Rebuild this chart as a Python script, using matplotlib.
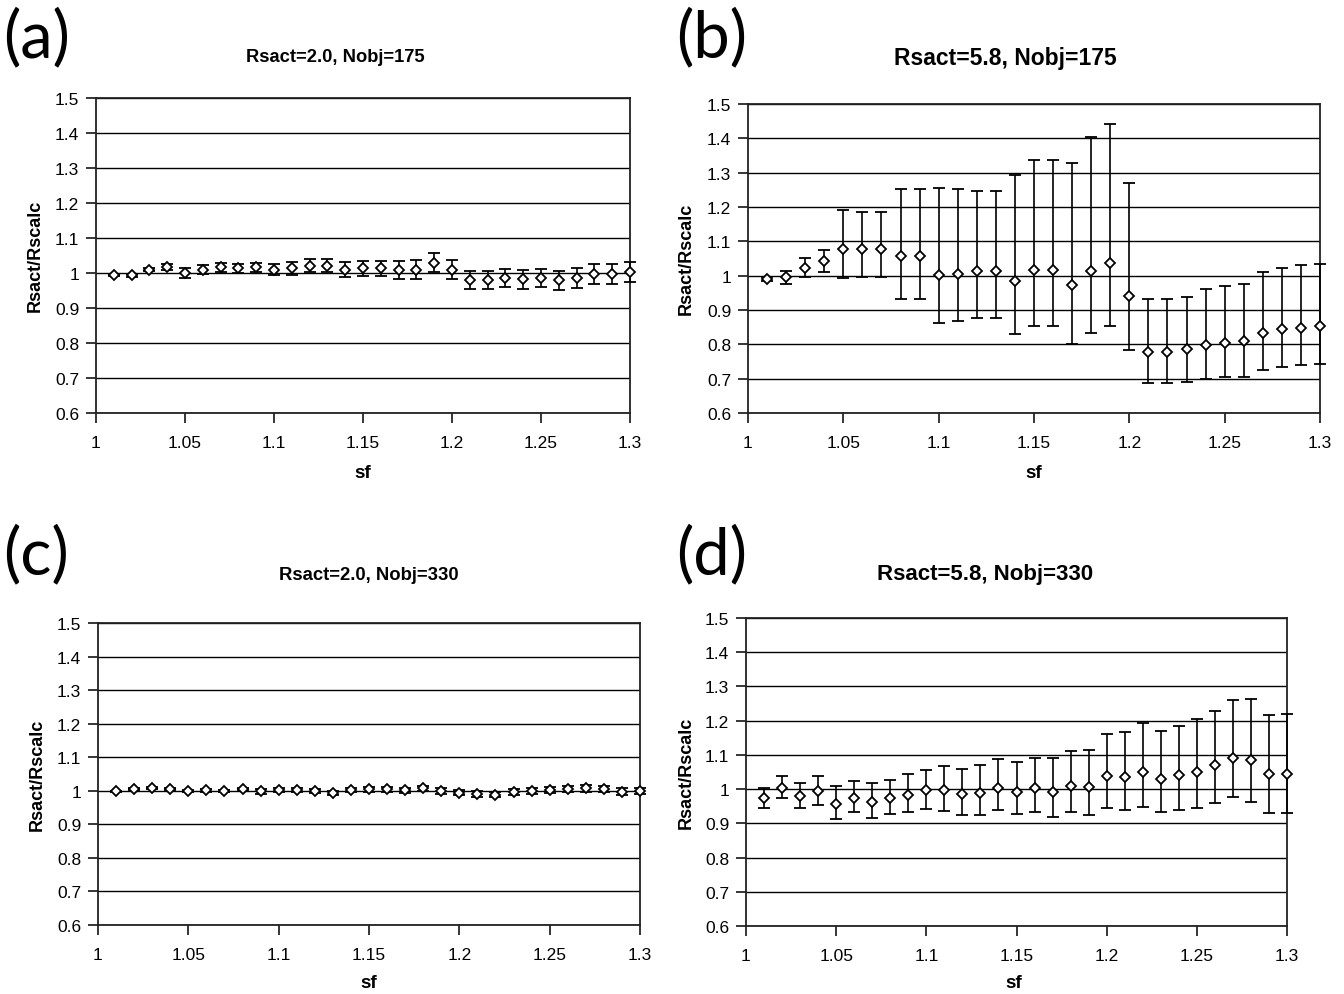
import numpy as np
import matplotlib
matplotlib.use("Agg")
import matplotlib.pyplot as plt

sf = [1.01, 1.02, 1.03, 1.04, 1.05, 1.06, 1.07, 1.08, 1.09, 1.10,
      1.11, 1.12, 1.13, 1.14, 1.15, 1.16, 1.17, 1.18, 1.19, 1.20,
      1.21, 1.22, 1.23, 1.24, 1.25, 1.26, 1.27, 1.28, 1.29, 1.30]

# (a) Rsact=2.0, Nobj=175
a_val = [0.994, 0.993, 1.010, 1.017, 1.001, 1.010, 1.017, 1.013, 1.017, 1.010,
         1.013, 1.021, 1.021, 1.010, 1.013, 1.013, 1.008, 1.010, 1.030, 1.010,
         0.979, 0.979, 0.986, 0.982, 0.986, 0.979, 0.986, 0.997, 0.997, 1.003]
a_err = [0.003, 0.003, 0.004, 0.009, 0.014, 0.012, 0.013, 0.014, 0.013, 0.016,
         0.018, 0.019, 0.019, 0.021, 0.022, 0.022, 0.026, 0.028, 0.028, 0.028,
         0.026, 0.026, 0.026, 0.028, 0.026, 0.028, 0.028, 0.028, 0.028, 0.028]

# (b) Rsact=5.8, Nobj=175
b_val = [0.990, 0.996, 1.023, 1.044, 1.077, 1.077, 1.077, 1.056, 1.056, 1.002,
         1.006, 1.013, 1.013, 0.985, 1.016, 1.016, 0.972, 1.013, 1.037, 0.941,
         0.778, 0.778, 0.785, 0.799, 0.805, 0.809, 0.832, 0.844, 0.849, 0.853]
b_top = [0.995, 1.013, 1.051, 1.076, 1.190, 1.186, 1.186, 1.252, 1.252, 1.256,
         1.252, 1.247, 1.247, 1.292, 1.337, 1.337, 1.329, 1.403, 1.442, 1.271,
         0.931, 0.931, 0.938, 0.961, 0.971, 0.976, 1.010, 1.023, 1.030, 1.034]
b_bot = [0.985, 0.976, 0.996, 1.012, 0.992, 0.996, 0.996, 0.931, 0.931, 0.862,
         0.867, 0.877, 0.877, 0.829, 0.852, 0.852, 0.800, 0.832, 0.852, 0.784,
         0.686, 0.686, 0.690, 0.700, 0.706, 0.706, 0.726, 0.734, 0.740, 0.743]

# (c) Rsact=2.0, Nobj=330
c_val = [0.998, 1.005, 1.009, 1.006, 0.998, 1.001, 0.999, 1.005, 0.998, 1.002,
         1.001, 0.998, 0.994, 1.001, 1.004, 1.004, 1.001, 1.007, 0.999, 0.994,
         0.990, 0.988, 0.996, 0.999, 1.002, 1.005, 1.007, 1.005, 0.997, 0.999]
c_err = [0.002, 0.002, 0.003, 0.003, 0.003, 0.004, 0.004, 0.004, 0.007, 0.006,
         0.006, 0.006, 0.006, 0.006, 0.007, 0.007, 0.007, 0.008, 0.008, 0.008,
         0.008, 0.008, 0.008, 0.008, 0.008, 0.009, 0.010, 0.010, 0.010, 0.010]

# (d) Rsact=5.8, Nobj=330
d_val = [0.974, 1.004, 0.981, 0.994, 0.957, 0.974, 0.963, 0.974, 0.983, 0.997,
         0.997, 0.986, 0.990, 1.004, 0.993, 1.004, 0.993, 1.010, 1.007, 1.037,
         1.034, 1.051, 1.030, 1.041, 1.051, 1.071, 1.090, 1.084, 1.044, 1.044]
d_top = [1.004, 1.037, 1.018, 1.037, 1.010, 1.024, 1.018, 1.027, 1.044, 1.057,
         1.067, 1.060, 1.071, 1.088, 1.078, 1.090, 1.090, 1.111, 1.114, 1.161,
         1.168, 1.194, 1.171, 1.185, 1.204, 1.228, 1.259, 1.262, 1.216, 1.219]
d_bot = [0.946, 0.974, 0.946, 0.953, 0.913, 0.933, 0.916, 0.926, 0.933, 0.943,
         0.936, 0.923, 0.923, 0.940, 0.926, 0.933, 0.919, 0.933, 0.923, 0.946,
         0.940, 0.949, 0.933, 0.940, 0.946, 0.959, 0.977, 0.963, 0.930, 0.930]

titles = ["Rsact=2.0, Nobj=175", "Rsact=5.8, Nobj=175",
          "Rsact=2.0, Nobj=330", "Rsact=5.8, Nobj=330"]
letters = ["(a)", "(b)", "(c)", "(d)"]
xticks = [1, 1.05, 1.1, 1.15, 1.2, 1.25, 1.3]
xticklabels = ["1", "1.05", "1.1", "1.15", "1.2", "1.25", "1.3"]
yticks = [0.6, 0.7, 0.8, 0.9, 1.0, 1.1, 1.2, 1.3, 1.4, 1.5]
yticklabels = ["0.6", "0.7", "0.8", "0.9", "1", "1.1", "1.2", "1.3", "1.4", "1.5"]

plt.rcParams['font.family'] = ['Liberation Sans', 'DejaVu Sans']

fig = plt.figure(figsize=(13.44, 9.95), dpi=100)
W, H = 1344, 995
boxes = [(96, 630, 99, 414), (748, 1320, 105, 414),
         (98, 640, 624, 926), (746, 1287, 619, 927)]
title_sizes = [13.2, 16.5, 13.3, 16]
title_pos = [(335, 57), (1005, 58), (369, 576), (985, 575)]
letter_pos = [(3, 38), (676, 38), (3, 555), (676, 555)]
xlabel_pos = [(363, 473), (1034, 473), (369, 984), (1014, 984)]
ylabel_pos = [(35, 256), (686, 259), (37, 775), (686, 773)]

vals = [np.array(a_val), np.array(b_val), np.array(c_val), np.array(d_val)]
errs = [np.array([a_err, a_err]),
        np.array([np.array(b_val) - np.array(b_bot), np.array(b_top) - np.array(b_val)]),
        np.array([c_err, c_err]),
        np.array([np.array(d_val) - np.array(d_bot), np.array(d_top) - np.array(d_val)])]

for i in range(4):
    l, r, t, b = boxes[i]
    ax = fig.add_axes([l / W, 1 - b / H, (r - l) / W, (b - t) / H])
    ax.set_xlim(1, 1.3)
    ax.set_ylim(0.6, 1.5)
    ax.set_yticks(yticks)
    ax.set_yticklabels(yticklabels)
    ax.set_xticks(xticks)
    ax.set_xticklabels(xticklabels)
    ax.yaxis.grid(True, color='black', linewidth=1.0)
    ax.set_axisbelow(True)
    ax.tick_params(axis='both', direction='out', length=7, width=1.1,
                   labelsize=12.5, colors='black')
    ax.tick_params(axis='x', pad=9)
    ax.tick_params(axis='y', pad=5)
    for s in ax.spines.values():
        s.set_color('#222222')
        s.set_linewidth(1.3)
    ax.errorbar(sf, vals[i], yerr=errs[i], fmt='D', ms=5.5, mfc='white', mec='black',
                mew=1.3, ecolor='black', elinewidth=1.2, capsize=4.5, capthick=1.2,
                clip_on=False, zorder=3)
    ax.set_xlabel("sf", fontweight='bold', fontsize=13.5, va='center')
    ax.set_ylabel("Rsact/Rscalc", fontweight='bold', fontsize=13, va='center')
    xl, yl = xlabel_pos[i]
    ax.xaxis.set_label_coords((xl - l) / (r - l), (b - yl) / (b - t))
    xl, yl = ylabel_pos[i]
    ax.yaxis.set_label_coords((xl - l) / (r - l), (b - yl) / (b - t))
    tx, ty = title_pos[i]
    fig.text(tx / W, 1 - ty / H, titles[i], ha='center', va='center',
             fontweight='bold', fontsize=title_sizes[i])
    lx, ly = letter_pos[i]
    fig.text(lx / W, 1 - ly / H, letters[i], ha='left', va='center',
             fontsize=47, family=['Lato', 'DejaVu Sans'], fontweight='normal')

fig.savefig("out.png", dpi=100)
